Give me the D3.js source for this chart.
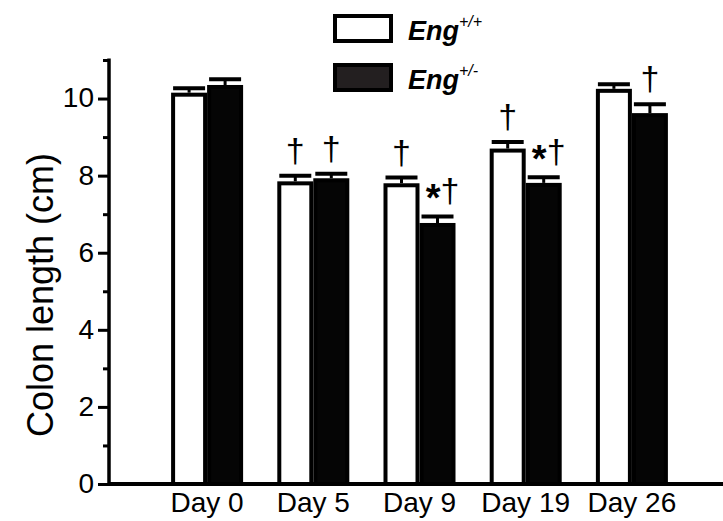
<!DOCTYPE html>
<html>
<head>
<meta charset="utf-8">
<script src="https://cdn.jsdelivr.net/npm/d3@7"></script>
<style>
  html, body { margin: 0; padding: 0; background: #fff; }
  svg { display: block; }
  text { font-family: "Liberation Sans", Arial, sans-serif; fill: #000; }
</style>
</head>
<body>
<svg id="chart" width="723" height="521"></svg>
<script>
// ---- Data ----
const days = ["Day 0", "Day 5", "Day 9", "Day 19", "Day 26"];
const seriesNames = ["Eng+/+", "Eng+/-"];
const wildType = [10.1, 7.8, 7.75, 8.65, 10.2];
const wildTypeErr = [0.17, 0.2, 0.2, 0.22, 0.17];
const hetero = [10.3, 7.88, 6.72, 7.76, 9.57];
const heteroErr = [0.2, 0.17, 0.22, 0.2, 0.28];
const wildTypeMarks = ["", "†", "†", "†", ""];
const heteroMarks = ["", "†", "*†", "*†", "†"];
const yTicks = [0, 2, 4, 6, 8, 10];
const yMinorTicks = [1, 3, 5, 7, 9, 11];

const svg = d3.select("#chart");

const y = d3.scaleLinear().domain([0, 11]).range([484, 60]);
const x = d3.scaleBand().domain(days).range([154, 685]).paddingInner(0.322).paddingOuter(0.161);
const sub = d3.scaleBand().domain(seriesNames).range([0, x.bandwidth()]);

const rows = days.map((d, i) => ([
  { day: d, s: seriesNames[0], v: wildType[i], e: wildTypeErr[i], m: wildTypeMarks[i], fill: "#fff" },
  { day: d, s: seriesNames[1], v: hetero[i], e: heteroErr[i], m: heteroMarks[i], fill: "#050505" }
])).flat();

const SW = 4;
// bars
svg.append("g").selectAll("rect").data(rows).join("rect")
  .attr("x", d => x(d.day) + sub(d.s) + SW / 2)
  .attr("width", sub.bandwidth() - SW)
  .attr("y", d => y(d.v))
  .attr("height", d => y(0) - y(d.v))
  .attr("fill", d => d.fill)
  .attr("stroke", "#000")
  .attr("stroke-width", SW);

// error bars (upper only)
const eb = svg.append("g");
rows.forEach(d => {
  const cx = x(d.day) + sub(d.s) + sub.bandwidth() / 2;
  eb.append("line").attr("x1", cx).attr("x2", cx)
    .attr("y1", y(d.v) - 2).attr("y2", y(d.v + d.e))
    .attr("stroke", "#000").attr("stroke-width", 3);
  eb.append("line").attr("x1", cx - 16).attr("x2", cx + 16)
    .attr("y1", y(d.v + d.e)).attr("y2", y(d.v + d.e))
    .attr("stroke", "#000").attr("stroke-width", 4);
});

// significance marks
const mk = svg.append("g");
rows.filter(d => d.m).forEach(d => {
  const cx = x(d.day) + sub(d.s) + sub.bandwidth() / 2;
  const t = mk.append("text")
    .attr("x", d.m.length > 1 ? cx + 5 : cx)
    .attr("y", y(d.v + d.e) - 14)
    .attr("text-anchor", "middle")
    .attr("font-size", 34);
  if (d.m.length > 1) {
    t.append("tspan").text("*").attr("font-size", 38).attr("font-weight", "bold").attr("dy", 9);
    t.append("tspan").text("†").attr("dy", -9);
  } else {
    t.text(d.m);
  }
});

// axes
const axG = svg.append("g");
axG.append("line").attr("x1", 109).attr("x2", 723).attr("y1", y(0)).attr("y2", y(0))
  .attr("stroke", "#000").attr("stroke-width", 4);
axG.append("line").attr("x1", 109).attr("x2", 109).attr("y1", y(11) - 1.5).attr("y2", y(0) + 2)
  .attr("stroke", "#000").attr("stroke-width", 3.5);

const yAxis = d3.axisLeft(y).tickValues(yTicks).tickSize(11).tickPadding(4);
const yg = svg.append("g").attr("transform", "translate(109,0)").call(yAxis);
yg.select(".domain").remove();
yg.selectAll(".tick line").attr("stroke", "#000").attr("stroke-width", 3);
yg.selectAll(".tick text").attr("font-size", 28).attr("font-family", "Liberation Sans, Arial, sans-serif").attr("dy", "0.3em");

const minor = d3.axisLeft(y).tickValues(yMinorTicks).tickSize(6).tickFormat("");
const ym = svg.append("g").attr("transform", "translate(109,0)").call(minor);
ym.select(".domain").remove();
ym.selectAll(".tick line").attr("stroke", "#000").attr("stroke-width", 3);

// x labels
svg.append("g").selectAll("text").data(days).join("text")
  .attr("x", d => x(d) + x.bandwidth() / 2)
  .attr("y", 512)
  .attr("text-anchor", "middle")
  .attr("font-size", 28)
  .text(d => d);

// y title
svg.append("text")
  .attr("transform", "translate(53,295) rotate(-90)")
  .attr("text-anchor", "middle")
  .attr("font-size", 36)
  .text("Colon length (cm)");

// legend
const lg = svg.append("g");
const legendFills = ["#fff", "#231f20"];
const legendSup = ["+/+", "+/-"];
seriesNames.forEach((s, i) => {
  const y0 = 16 + i * 49;
  lg.append("rect").attr("x", 335).attr("y", y0).attr("width", 56).attr("height", 25)
    .attr("fill", legendFills[i]).attr("stroke", "#000").attr("stroke-width", 4);
  const t = lg.append("text").attr("x", 408).attr("y", y0 + 24)
    .attr("font-size", 27).attr("font-weight", "bold").attr("font-style", "italic");
  t.append("tspan").text("Eng");
  t.append("tspan").text(legendSup[i]).attr("font-size", 16).attr("dy", -13).attr("font-weight", "normal");
});
</script>
</body>
</html>
